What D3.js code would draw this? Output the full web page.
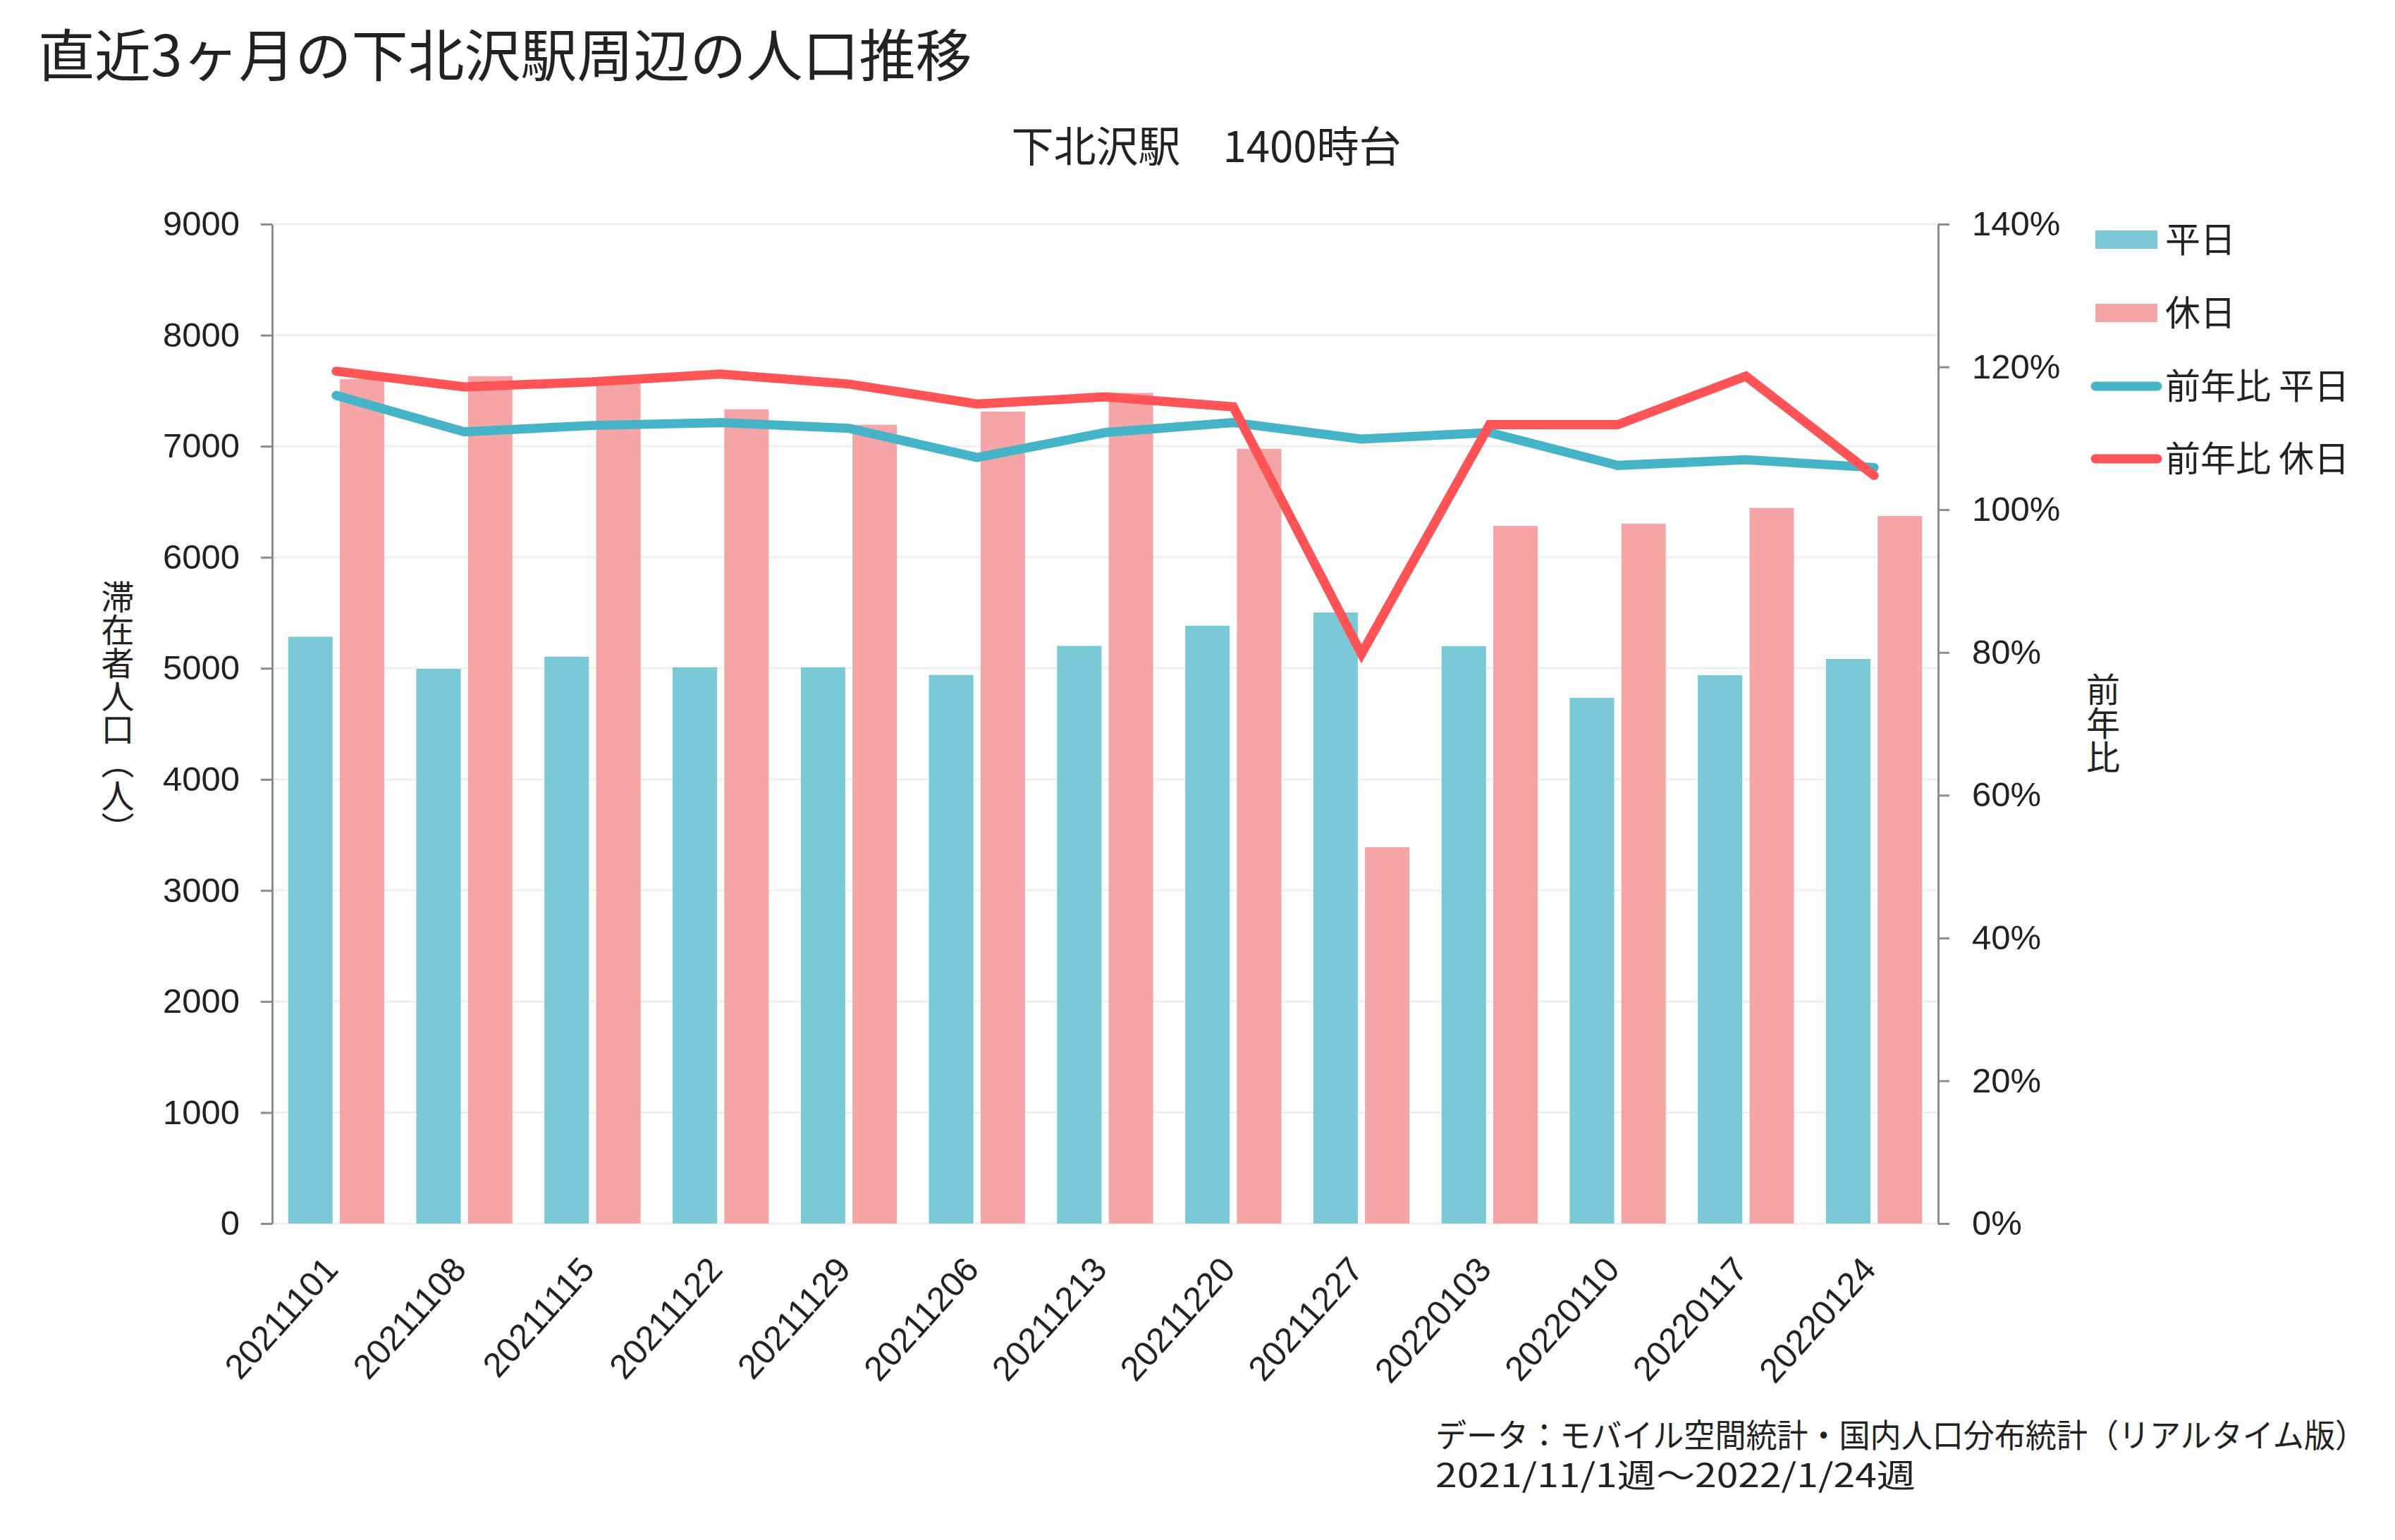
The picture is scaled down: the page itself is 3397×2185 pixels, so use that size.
<!DOCTYPE html>
<html>
<head>
<meta charset="utf-8">
<script src="https://cdn.jsdelivr.net/npm/d3@7"></script>
<style>
  body { margin: 0; background: #fff; }
  text { font-family: "Liberation Sans", "Noto Sans CJK JP", sans-serif; fill: #222; }
  .jp { font-family: "Noto Sans CJK JP", sans-serif; }
</style>
</head>
<body>
<div id="chart"></div>
<script>
// week labels
var weeks = ["20211101", "20211108", "20211115", "20211122", "20211129", "20211206",
    "20211213", "20211220", "20211227", "20220103", "20220110", "20220117", "20220124"];

// 滞在者人口 (left axis)
var weekday = [5284, 4995, 5105, 5009, 5009, 4940, 5202, 5384, 5503, 5200, 4734, 4938, 5084];
var holiday = [7605, 7631, 7600, 7333, 7193, 7312, 7480, 6977, 3389, 6283, 6302, 6444, 6372];

// 前年比 % (right axis)
var ratioWeekday = [116.0, 110.9, 111.8, 112.2, 111.4, 107.3, 110.8, 112.2, 109.9, 110.8, 106.2, 107.0, 105.9];
var ratioHoliday = [119.4, 117.2, 117.9, 119.0, 117.6, 114.8, 115.8, 114.4, 79.8, 111.9, 111.9, 118.7, 104.8];

var leftTicks = [0, 1000, 2000, 3000, 4000, 5000, 6000, 7000, 8000, 9000];
var rightTicks = [0, 20, 40, 60, 80, 100, 120, 140];

var seriesNames = ["平日", "休日"];

var svgWidth = 3397;
var svgHeight = 2185;

var margin = { top: 318, right: 648, bottom: 449, left: 386 };
var width = svgWidth - margin.left - margin.right;
var height = svgHeight - margin.top - margin.bottom;

var colBar = { "平日": "#79c9d6", "休日": "#f6a5a6" };
var colLineWeekday = "#46b4c8";
var colLineHoliday = "#ff5356";

var svg = d3.select("#chart")
    .append("svg")
    .attr("width", svgWidth)
    .attr("height", svgHeight);

var chartGroup = svg.append("g")
    .attr("transform", `translate(${margin.left}, ${margin.top})`);

// scales
var x0 = d3.scaleBand()
    .domain(weeks)
    .range([0, width])
    .paddingInner(0.25)
    .paddingOuter(0.125);

var x1 = d3.scaleBand()
    .domain(seriesNames)
    .range([0, x0.bandwidth()])
    .paddingInner(0.14);

var yLeft = d3.scaleLinear()
    .domain([0, 9000])
    .range([height, 0]);

var yRight = d3.scaleLinear()
    .domain([0, 140])
    .range([height, 0]);

// gridlines
chartGroup.selectAll(".grid")
    .data(leftTicks)
    .enter()
    .append("line")
    .attr("x1", 0)
    .attr("x2", width)
    .attr("y1", d => yLeft(d))
    .attr("y2", d => yLeft(d))
    .attr("stroke", "#efefef")
    .attr("stroke-width", 3);

// bars
var rows = weeks.map(function (w, i) {
    return { week: w, values: [{ key: "平日", value: weekday[i] }, { key: "休日", value: holiday[i] }] };
});

var groups = chartGroup.selectAll(".wk")
    .data(rows)
    .enter()
    .append("g")
    .attr("transform", d => `translate(${x0(d.week)}, 0)`);

groups.selectAll("rect")
    .data(d => d.values)
    .enter()
    .append("rect")
    .attr("x", d => x1(d.key))
    .attr("y", d => yLeft(d.value))
    .attr("width", x1.bandwidth())
    .attr("height", d => height - yLeft(d.value))
    .attr("fill", d => colBar[d.key]);

// lines
var line = d3.line()
    .x((d, i) => x0(weeks[i]) + x0.bandwidth() / 2)
    .y(d => yRight(d));

chartGroup.append("path")
    .datum(ratioWeekday)
    .attr("d", line)
    .attr("fill", "none")
    .attr("stroke", colLineWeekday)
    .attr("stroke-width", 13)
    .attr("stroke-linecap", "round")
    .attr("stroke-linejoin", "miter");

chartGroup.append("path")
    .datum(ratioHoliday)
    .attr("d", line)
    .attr("fill", "none")
    .attr("stroke", colLineHoliday)
    .attr("stroke-width", 13)
    .attr("stroke-linecap", "round")
    .attr("stroke-linejoin", "miter");

// axes
var leftAxis = d3.axisLeft(yLeft)
    .tickValues(leftTicks)
    .tickSize(16)
    .tickSizeOuter(0)
    .tickPadding(30)
    .tickFormat(d3.format("d"));

var rightAxis = d3.axisRight(yRight)
    .tickValues(rightTicks)
    .tickSize(16)
    .tickSizeOuter(0)
    .tickPadding(32)
    .tickFormat(d => d + "%");

var gl = chartGroup.append("g").call(leftAxis);
var gr = chartGroup.append("g")
    .attr("transform", `translate(${width}, 0)`)
    .call(rightAxis);

[gl, gr].forEach(function (g) {
    g.select(".domain").attr("stroke", "#8c8c8c").attr("stroke-width", 3);
    g.selectAll(".tick line").attr("stroke", "#8c8c8c").attr("stroke-width", 3);
    g.selectAll(".tick text")
        .attr("font-size", 49)
        .attr("font-family", "Liberation Sans, sans-serif")
        .attr("fill", "#222");
});

// x labels
chartGroup.selectAll(".xlab")
    .data(weeks)
    .enter()
    .append("text")
    .attr("transform", d => `translate(${x0(d) + x0.bandwidth() / 2 + 5}, ${height + 67}) rotate(-48)`)
    .attr("text-anchor", "end")
    .attr("font-size", 49)
    .text(d => d);

// axis titles (vertical)
svg.append("text")
    .attr("class", "jp")
    .attr("x", 167)
    .attr("y", 1011)
    .attr("text-anchor", "middle")
    .attr("font-size", 47)
    .style("writing-mode", "vertical-rl")
    .text("滞在者人口（人）");

svg.append("text")
    .attr("class", "jp")
    .attr("x", 2983)
    .attr("y", 1026)
    .attr("text-anchor", "middle")
    .attr("font-size", 48)
    .style("writing-mode", "vertical-rl")
    .text("前年比");

// legend
var legendY = [340, 444, 548, 651];

svg.selectAll(".legRect")
    .data(seriesNames)
    .enter()
    .append("rect")
    .attr("x", 2972)
    .attr("y", (d, i) => legendY[i] - 13)
    .attr("width", 88)
    .attr("height", 26)
    .attr("fill", d => colBar[d]);

svg.selectAll(".legLine")
    .data([colLineWeekday, colLineHoliday])
    .enter()
    .append("line")
    .attr("x1", 2972)
    .attr("x2", 3060)
    .attr("y1", (d, i) => legendY[i + 2])
    .attr("y2", (d, i) => legendY[i + 2])
    .attr("stroke", d => d)
    .attr("stroke-width", 13)
    .attr("stroke-linecap", "round");

svg.selectAll(".legText")
    .data(["平日", "休日", "前年比 平日", "前年比 休日"])
    .enter()
    .append("text")
    .attr("class", "jp")
    .attr("x", 3071)
    .attr("y", (d, i) => legendY[i])
    .attr("dy", "0.36em")
    .attr("font-size", 50)
    .text(d => d);

// titles
svg.append("text")
    .attr("class", "jp")
    .attr("x", 54)
    .attr("y", 108)
    .attr("font-size", 80)
    .text("直近3ヶ月の下北沢駅周辺の人口推移");

svg.append("text")
    .attr("class", "jp")
    .attr("x", 1711)
    .attr("y", 230)
    .attr("text-anchor", "middle")
    .attr("font-size", 60)
    .text("下北沢駅　1400時台");

// source note
svg.append("text")
    .attr("class", "jp")
    .attr("x", 2036)
    .attr("y", 2053)
    .attr("font-size", 46)
    .attr("textLength", 1320)
    .attr("lengthAdjust", "spacingAndGlyphs")
    .text("データ：モバイル空間統計・国内人口分布統計（リアルタイム版）");

svg.append("text")
    .attr("class", "jp")
    .attr("x", 2036)
    .attr("y", 2110)
    .attr("font-size", 46)
    .attr("textLength", 681)
    .attr("lengthAdjust", "spacingAndGlyphs")
    .text("2021/11/1週～2022/1/24週");
</script>
</body>
</html>
